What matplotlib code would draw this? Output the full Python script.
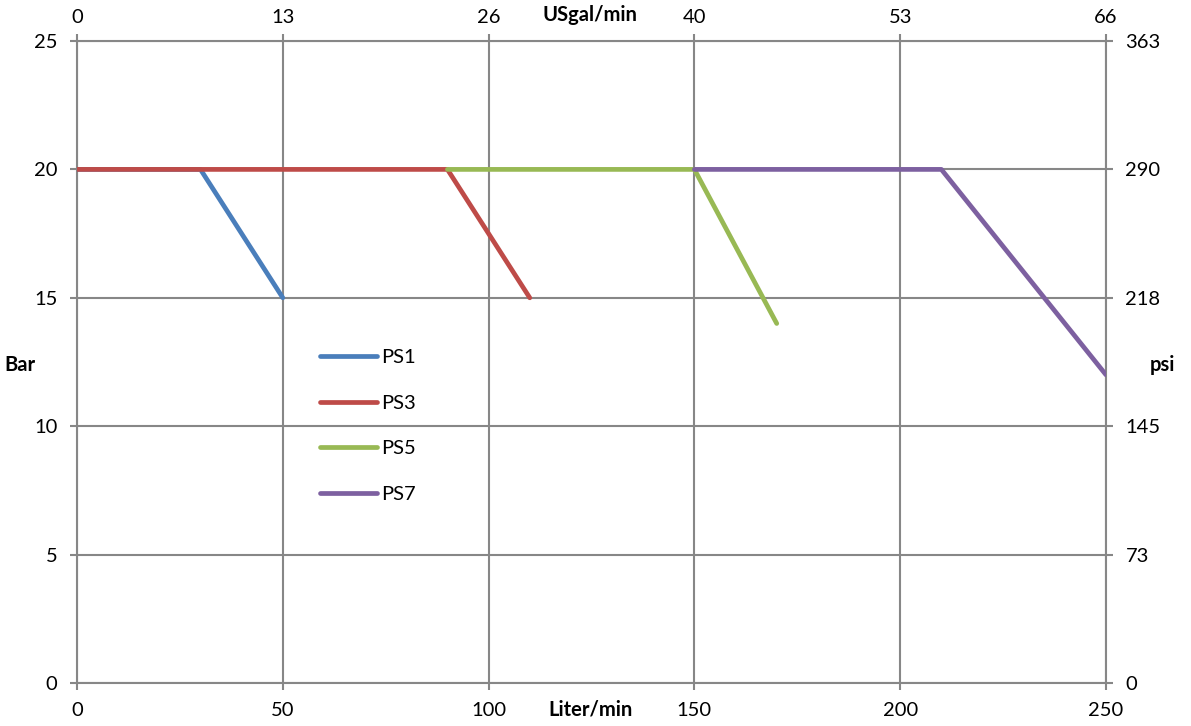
import matplotlib
matplotlib.use("Agg")
import matplotlib.pyplot as plt

plt.rcParams['font.family'] = ['Lato', 'DejaVu Sans']

# Data
ps1_x = [0, 30, 50]
ps1_y = [20, 20, 15]
ps3_x = [0, 90, 110]
ps3_y = [20, 20, 15]
ps5_x = [90, 150, 170]
ps5_y = [20, 20, 14]
ps7_x = [150, 210, 250]
ps7_y = [20, 20, 12]
series_names = ['PS1', 'PS3', 'PS5', 'PS7']
colors = ['#4a7ebb', '#be4b48', '#98b954', '#7d60a0']

bottom_ticks = [0, 50, 100, 150, 200, 250]
top_tick_labels = ['0', '13', '26', '40', '53', '66']
left_ticks = [0, 5, 10, 15, 20, 25]
right_tick_labels = ['0', '73', '145', '218', '290', '363']

W, H = 1191, 726
fig = plt.figure(figsize=(W / 100, H / 100), dpi=100)
ax = fig.add_axes([77 / W, 1 - 683 / H, (1106 - 77) / W, (683 - 41) / H])

grid_c = '#878787'
fs = 14.5

for xs, ys, name, c in zip([ps1_x, ps3_x, ps5_x, ps7_x], [ps1_y, ps3_y, ps5_y, ps7_y], series_names, colors):
    ax.plot(xs, ys, color=c, lw=3.4, label=name, solid_capstyle='round', solid_joinstyle='round', zorder=3)

ax.set_xlim(0, 250)
ax.set_ylim(0, 25)
ax.set_xticks(bottom_ticks)
ax.set_yticks(left_ticks)
ax.grid(True, color=grid_c, lw=1.5, zorder=1)
for s in ax.spines.values():
    s.set_color(grid_c)
    s.set_linewidth(1.5)
ax.tick_params(axis='both', colors=grid_c, labelcolor='black', labelsize=fs, length=5, width=1.5, direction='out')
ax.tick_params(axis='x', pad=9)
ax.tick_params(axis='y', pad=9)

axt = ax.twiny()
axt.set_xlim(0, 250)
axt.set_xticks(bottom_ticks)
axt.set_xticklabels(top_tick_labels)
axt.tick_params(axis='x', colors=grid_c, labelcolor='black', labelsize=fs, length=5, width=1.5, pad=6)
for s in axt.spines.values():
    s.set_visible(False)

axr = ax.twinx()
axr.set_ylim(0, 25)
axr.set_yticks(left_ticks)
axr.set_yticklabels(right_tick_labels)
axr.tick_params(axis='y', colors=grid_c, labelcolor='black', labelsize=fs, length=5, width=1.5, pad=9)
for s in axr.spines.values():
    s.set_visible(False)

fig.text(590 / W, 1 - 15 / H, 'USgal/min', ha='center', va='center', fontsize=fs, fontweight='bold')
fig.text(590 / W, 1 - 710 / H, 'Liter/min', ha='center', va='center', fontsize=fs, fontweight='bold')
fig.text(20 / W, 1 - 365 / H, 'Bar', ha='center', va='center', fontsize=fs, fontweight='bold')
fig.text(1162 / W, 1 - 365 / H, 'psi', ha='center', va='center', fontsize=fs, fontweight='bold')

leg = ax.legend(loc='upper left', bbox_to_anchor=((320 - 77) / (1106 - 77), (683 - 349) / (683 - 41)),
                frameon=False, fontsize=fs, handlelength=2.83, handletextpad=0.2, labelspacing=1.42,
                borderaxespad=0, borderpad=0)
leg.set_zorder(5)

fig.savefig('out.png', dpi=100)
